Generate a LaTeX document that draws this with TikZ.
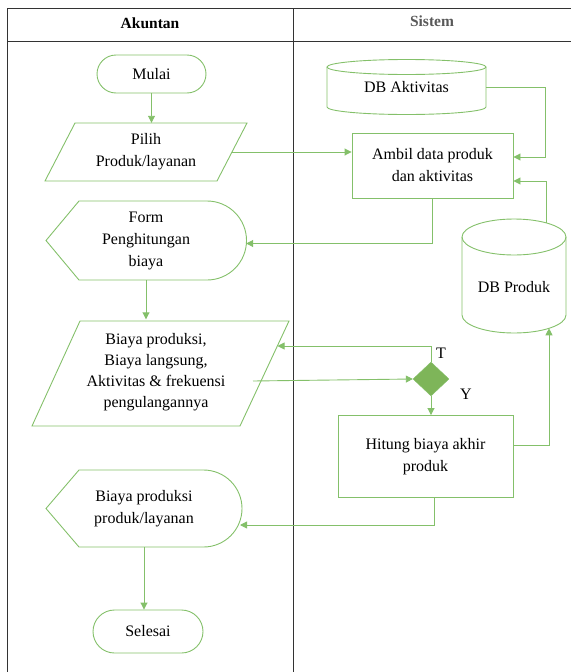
\documentclass[tikz,border=0pt]{standalone}
\usepackage{fontspec}
\setmainfont{Liberation Serif}
\newfontfamily\tnr{Liberation Serif}
\usetikzlibrary{arrows.meta,shapes.misc,shapes.geometric}
\definecolor{lg}{HTML}{70AD47}
\definecolor{ll}{HTML}{84C06A}
\begin{document}
\begin{tikzpicture}[x=1pt,y=-1pt,
  shp/.style={draw=ll,line width=0.9pt},
  txt/.style={font=\tnr\fontsize{16}{22}\selectfont,align=center,inner sep=0pt},
  box0/.style={txt,rectangle,draw=none},
  term/.style={shp,txt,rounded rectangle},
  proc/.style={shp,txt,rectangle},
  arr/.style={draw=ll,line width=0.9pt,-{Triangle[length=7pt,width=7pt]}},
  frame/.style={draw=black!80,line width=0.8pt},
  head/.style={font=\tnr\fontsize{15.5}{18}\selectfont\bfseries,inner sep=0pt}]
\useasboundingbox (0,0) rectangle (571,672);
% frame
\draw[frame] (7,672) -- (7,8) -- (571,8);
\draw[frame] (7,41) -- (571,41);
\draw[frame] (293,8) -- (293,672);
\node[head] (hA) at (150,23) {Akuntan};
\node[head,text=black!65] (hS) at (432,21) {Sistem};
% nodes
\node[term,minimum width=109pt,minimum height=38pt] (mulai) at (151.5,74) {Mulai};
\node[box0,minimum width=172pt,minimum height=58pt] (pilih) at (146,152) {Pilih\\Produk/layanan};
\draw[shp] (75,123) -- (247,123) -- (217,181) -- (45,181) -- cycle;
\draw[shp] (327,67) -- (327,107) arc[start angle=180,end angle=360,x radius=79.5pt,y radius=7.5pt] -- (486,67);
\draw[shp] (406.5,67) ellipse[x radius=79.5pt,y radius=7.5pt];
\node[box0,minimum width=159pt,minimum height=40pt] (dbakt) at (406.5,87) {DB Aktivitas};
\node[proc,minimum width=161pt,minimum height=65pt] (ambil) at (432.5,165.5) {Ambil data produk\\dan aktivitas};
\draw[shp] (462,237) -- (462,315) arc[start angle=180,end angle=360,x radius=52pt,y radius=18pt] -- (566,237);
\draw[shp] (514,237) ellipse[x radius=52pt,y radius=18pt];
\node[box0,minimum width=104pt,minimum height=40pt] (dbprod) at (514,287) {DB Produk};
\coordinate (dbpTop) at (546,222.8);
\coordinate (dbpBot) at (549,328.3);
\draw[shp] (46,240.5) -- (79,201) -- (207,201) arc[start angle=90,end angle=-90,radius=39.5pt] -- (79,280) -- cycle;
\node[box0,minimum width=200pt,minimum height=79pt] (form) at (146,240.5) {Form\\Penghitungan\\biaya};
\draw[shp] (80,321) -- (289,321) -- (240,426) -- (32,426) -- cycle;
\node[box0,minimum width=208pt,minimum height=105pt,font=\tnr\fontsize{16}{21}\selectfont] (biaya) at (156,372) {Biaya produksi,\\Biaya langsung,\\Aktivitas \& frekuensi\\pengulangannya};
\coordinate (biayaT) at (277.5,346);
\coordinate (biayaOut) at (253,381);
\node[diamond,fill=lg!90!white,draw=ll,minimum width=36pt,minimum height=34pt,inner sep=0pt] (dec) at (431,379) {};
\node[txt] (lt) at (441,353) {T};
\node[txt] (ly) at (466,394) {Y};
\node[proc,minimum width=175pt,minimum height=82pt] (hitung) at (425.5,456.5) {Hitung biaya akhir\\produk};
\draw[shp] (46,508.5) -- (79,470) -- (203.5,470) arc[start angle=90,end angle=-90,radius=38.5pt] -- (79,547) -- cycle;
\node[box0,minimum width=196pt,minimum height=77pt] (bpp) at (144,508.5) {Biaya produksi\\produk/layanan};
\coordinate (bppIn) at (240,525);
\node[term,minimum width=110pt,minimum height=43pt] (selesai) at (148,631.5) {Selesai};
% connectors
\draw[arr] (mulai.south) -- (mulai.south |- pilih.north);
\draw[arr] (pilih.east) -- (pilih.east -| ambil.west);
\draw[arr] (dbakt.east) -- (545,87) |- ([yshift=8.5pt]ambil.east);
\draw[arr] (dbpTop) |- ([yshift=-15.5pt]ambil.east);
\draw[arr] (ambil.south) |- ([yshift=-3pt]form.east);
\draw[arr] (form.south) -- (form.south |- biaya.north);
\draw[arr] (dec.north) |- (biayaT);
\draw[arr] (biayaOut) -- (dec.west);
\draw[arr] (dec.south) -- (dec.south |- hitung.north);
\draw[arr] ([yshift=11.5pt]hitung.east) -| (dbpBot);
\draw[arr] ([xshift=8.5pt]hitung.south) |- (bppIn);
\draw[arr] (bpp.south) -- (bpp.south |- selesai.north);
\end{tikzpicture}
\end{document}
